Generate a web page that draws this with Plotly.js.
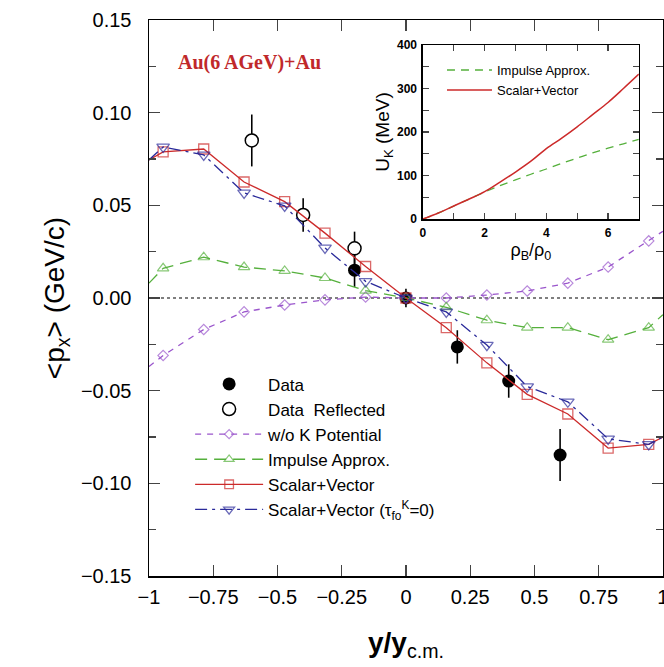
<!DOCTYPE html>
<html>
<head>
<meta charset="utf-8">
<script src="https://cdn.plot.ly/plotly-3.0.1.min.js"></script>
<style>html,body{margin:0;padding:0;background:#fff;}#chart{width:664px;height:667px;}</style>
</head>
<body>
<div id="chart"></div>
<script>
// ---- main panel data ----
const yGrid = [-1, -0.945, -0.787, -0.63, -0.472, -0.315, -0.157, 0, 0.157, 0.315, 0.472, 0.63, 0.787, 0.945, 1];
const markerShown = [0, 1, 1, 1, 1, 1, 1, 1, 1, 1, 1, 1, 1, 1, 0];
const noPotential = [-0.037, -0.031, -0.017, -0.0075, -0.0038, -0.001, 0.0005, 0, 0.0, 0.0016, 0.0038, 0.008, 0.0167, 0.0308, 0.036];
const impulseApprox = [0.008, 0.016, 0.022, 0.0167, 0.0146, 0.0108, 0.0040, 0, -0.005, -0.012, -0.016, -0.016, -0.0225, -0.016, -0.009];
const scalarVector = [0.0745, 0.0788, 0.0804, 0.0626, 0.052, 0.035, 0.0170, 0, -0.0160, -0.035, -0.052, -0.0626, -0.081, -0.079, -0.075];
const scalarVectorTau0 = [0.0745, 0.0815, 0.0772, 0.0567, 0.0497, 0.027, 0.009, 0, -0.0075, -0.0254, -0.0478, -0.056, -0.0760, -0.079, -0.075];

const dataX = [-0.2, 0, 0.2, 0.4, 0.6];
const dataY = [0.0150, 0, -0.0264, -0.0448, -0.0847];
const dataErr = [0.009, 0.005, 0.009, 0.009, 0.014];
const reflX = [-0.2, -0.4, -0.6];
const reflY = [0.0268, 0.0448, 0.0850];
const reflErr = [0.009, 0.009, 0.014];

// ---- inset data ----
const rho = [0, 0.5, 1, 1.5, 2, 2.5, 3, 3.5, 4, 4.5, 5, 5.5, 6, 6.5, 7];
const ukScalarVector = [0, 14, 30, 46, 63, 85, 108, 133, 162, 186, 212, 240, 268, 300, 333];
const ukImpulse = [0, 14, 30, 46, 62, 77, 90, 103, 115, 128, 140, 152, 163, 173, 183];

const cRed = '#cc2a2a', cBlue = '#2a2a9a', cGreen = '#55b03c', cPurple = '#9a55cc';
const FONT = 'Liberation Sans, Arial, Helvetica, sans-serif';

function msize(s) { return markerShown.map(v => v * s); }

const traces = [
  {x: dataX, y: dataY, type: 'scatter', mode: 'markers', name: 'Data',
   marker: {symbol: 'circle', size: 13, color: '#000'},
   error_y: {type: 'data', array: dataErr, visible: true, thickness: 1.6, width: 0, color: '#000'},
   legendgroup: 'a'},
  {x: reflX, y: reflY, type: 'scatter', mode: 'markers', name: 'Data  Reflected',
   marker: {symbol: 'circle', size: 13, color: '#fff', line: {color: '#000', width: 1.5}},
   error_y: {type: 'data', array: reflErr, visible: true, thickness: 1.6, width: 0, color: '#000'},
   legendgroup: 'b'},
  {x: yGrid, y: noPotential, type: 'scatter', mode: 'lines+markers', name: 'w/o K Potential',
   line: {color: cPurple, width: 1.3, dash: '6px,6px'},
   marker: {symbol: 'diamond-open', size: msize(8), color: cPurple, line: {width: 1.2}}, legendgroup: 'c'},
  {x: yGrid, y: impulseApprox, type: 'scatter', mode: 'lines+markers', name: 'Impulse Approx.',
   line: {color: cGreen, width: 1.3, dash: '12px,7px'},
   marker: {symbol: 'triangle-up-open', size: msize(10), color: cGreen, line: {width: 1.2}}, legendgroup: 'd'},
  {x: yGrid, y: scalarVector, type: 'scatter', mode: 'lines+markers', name: 'Scalar+Vector',
   line: {color: cRed, width: 1.3},
   marker: {symbol: 'square-open', size: msize(10), color: cRed, line: {width: 1.3}}, legendgroup: 'e'},
  {x: yGrid, y: scalarVectorTau0, type: 'scatter', mode: 'lines+markers', name: 'Scalar+Vector (τ<sub>fo</sub><sup>K</sup>=0)',
   line: {color: cBlue, width: 1.3, dash: '12px,5px,3px,5px'},
   marker: {symbol: 'triangle-down-open', size: msize(11), color: cBlue, line: {width: 1.3}}, legendgroup: 'f'},
  // inset
  {x: rho, y: ukImpulse, xaxis: 'x2', yaxis: 'y2', type: 'scatter', mode: 'lines', name: 'Impulse Approx.',
   line: {color: cGreen, width: 1.3, dash: '8px,6px', shape: 'spline'}, legend: 'legend2'},
  {x: rho, y: ukScalarVector, xaxis: 'x2', yaxis: 'y2', type: 'scatter', mode: 'lines', name: 'Scalar+Vector',
   line: {color: cRed, width: 1.5, shape: 'spline'}, legend: 'legend2'}
];

const layout = {
  width: 664, height: 667,
  margin: {l: 149, r: 1, t: 20, b: 91},
  paper_bgcolor: '#fff', plot_bgcolor: 'rgba(0,0,0,0)',
  font: {family: FONT, color: '#000'},
  showlegend: true,
  xaxis: {
    range: [-1, 1.0005], dtick: 0.25, tick0: 0, ticks: 'inside', ticklen: 11, tickwidth: 1.3,
    showline: true, linewidth: 1.5, linecolor: '#000', mirror: 'allticks',
    showgrid: false, zeroline: false, tickfont: {size: 20, family: FONT},
    ticklabelstandoff: 2, ticklabeloverflow: 'allow',
    title: {text: '<b>y/y</b><sub>c.m.</sub>', font: {size: 28, family: FONT}, standoff: 26}
  },
  yaxis: {
    range: [-0.15, 0.15], dtick: 0.05, tick0: 0, tickformat: '.2f', ticks: 'inside', ticklen: 11, tickwidth: 1.3,
    minor: {dtick: 0.025, ticks: 'inside', ticklen: 7, tickwidth: 1.3},
    showline: true, linewidth: 1.5, linecolor: '#000', mirror: 'allticks',
    showgrid: false, zeroline: false, tickfont: {size: 20, family: FONT},
    ticklabelstandoff: 12,
    title: {text: '&lt;p<sub>x</sub>&gt; (GeV/c)', font: {size: 28, family: FONT}, standoff: 8}
  },
  xaxis2: {
    domain: [0.533, 0.953], anchor: 'y2', range: [0, 7], dtick: 2, tick0: 0,
    ticks: 'inside', ticklen: 6, tickwidth: 1.2,
    minor: {dtick: 1, ticks: 'inside', ticklen: 6, tickwidth: 1.2},
    showline: true, linewidth: 1.5, linecolor: '#000', mirror: 'allticks',
    showgrid: false, zeroline: false, tickfont: {size: 12, family: FONT, weight: 'bold'},
    ticklabelstandoff: 2,
    title: {text: 'ρ<sub>B</sub>/ρ<sub>0</sub>', font: {size: 18, family: FONT}, standoff: 3}
  },
  yaxis2: {
    domain: [0.642, 0.955], anchor: 'x2', range: [0, 400], dtick: 100, tick0: 0,
    ticks: 'inside', ticklen: 6, tickwidth: 1.2,
    minor: {dtick: 50, ticks: 'inside', ticklen: 6, tickwidth: 1.2},
    showline: true, linewidth: 1.5, linecolor: '#000', mirror: 'allticks',
    showgrid: false, zeroline: false, tickfont: {size: 12, family: FONT, weight: 'bold'},
    ticklabelstandoff: 2,
    title: {text: 'U<sub>K</sub> (MeV)', font: {size: 19, family: FONT}, standoff: 2}
  },
  legend: {
    x: 0.08, y: 0.377, xanchor: 'left', yanchor: 'top',
    bgcolor: 'rgba(0,0,0,0)', borderwidth: 0,
    font: {size: 17, family: FONT, color: '#000'},
    itemwidth: 68, tracegroupgap: 1, traceorder: 'normal'
  },
  legend2: {
    x: 0.57, y: 0.937, xanchor: 'left', yanchor: 'top',
    bgcolor: 'rgba(0,0,0,0)', borderwidth: 0,
    font: {size: 13, family: FONT, color: '#000'},
    itemwidth: 45, tracegroupgap: 0
  },
  shapes: [
    {type: 'line', xref: 'x domain', yref: 'y', x0: 0, x1: 1, y0: 0, y1: 0,
     line: {color: '#000', width: 1.2, dash: 'dot'}, layer: 'below'}
  ],
  annotations: [
    {text: '<b>Au(6 AGeV)+Au</b>', xref: 'paper', yref: 'paper', x: 0.196, y: 0.924,
     xanchor: 'center', yanchor: 'middle', showarrow: false,
     font: {family: 'Liberation Serif, Times New Roman, serif', size: 20, color: '#c0282a'}}
  ]
};

Plotly.newPlot('chart', traces, layout, {displayModeBar: false, staticPlot: true});
</script>
</body>
</html>
